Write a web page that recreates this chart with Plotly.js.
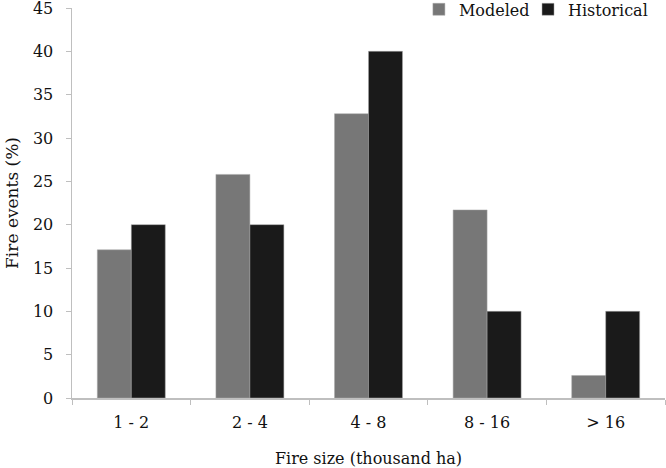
<!DOCTYPE html>
<html>
<head>
<meta charset="utf-8">
<script src="https://cdn.plot.ly/plotly-3.0.1.min.js"></script>
<style>html,body{margin:0;padding:0;background:#fff;}#chart{width:666px;height:468px;}</style>
</head>
<body>
<div id="chart"></div>
<script>
const categories = ["1 - 2", "2 - 4", "4 - 8", "8 - 16", "> 16"];
const modeled = [17.1, 25.8, 32.8, 21.7, 2.6];
const historical = [20, 20, 40, 10, 10];
const seriesNames = ["Modeled", "Historical"];

const FONT = "DejaVu Serif, Liberation Serif, serif";
const TXT = "#111";
const traces = [
  {type: "bar", name: seriesNames[0], x: categories, y: modeled, legend: "legend",
   marker: {color: "#777777", line: {color: "#a8a8a8", width: 0.5}}},
  {type: "bar", name: seriesNames[1], x: categories, y: historical, legend: "legend2",
   marker: {color: "#1a1a1a", line: {color: "#a8a8a8", width: 0.5}}}
];
const legBase = {orientation: "h", xanchor: "left", y: 1.04, yanchor: "top",
                 font: {family: FONT, size: 16, color: TXT}, bgcolor: "rgba(0,0,0,0)", itemwidth: 30};
const layout = {
  width: 666, height: 468,
  margin: {l: 72, r: 1, t: 8, b: 70, autoexpand: false},
  paper_bgcolor: "#fff", plot_bgcolor: "#fff",
  barmode: "group", bargap: 0.427, bargroupgap: 0,
  font: {family: FONT, size: 16, color: TXT},
  showlegend: true,
  legend: Object.assign({}, legBase, {x: 0.585}),
  legend2: Object.assign({}, legBase, {x: 0.769}),
  xaxis: {type: "category", tickson: "boundaries", ticks: "outside", ticklen: 5, automargin: false,
          tickcolor: "#bfbfbf", showline: true, linecolor: "#bfbfbf", linewidth: 1.5,
          showgrid: false, zeroline: false, ticklabelstandoff: 9,
          tickfont: {family: FONT, size: 16, color: TXT},
          title: {text: "Fire size (thousand ha)", font: {family: FONT, size: 16, color: TXT}, standoff: 22}},
  yaxis: {range: [0, 45], dtick: 5, tick0: 0, ticks: "outside", ticklen: 5, automargin: false,
          tickcolor: "#bfbfbf", showline: true, linecolor: "#bfbfbf", linewidth: 1.5,
          showgrid: false, zeroline: false, ticklabelstandoff: 9, ticklabeloverflow: "allow",
          tickfont: {family: FONT, size: 16, color: TXT},
          title: {text: "Fire events (%)", font: {family: FONT, size: 17, color: TXT}, standoff: 10}}
};
Plotly.newPlot("chart", traces, layout, {displayModeBar: false, staticPlot: true});
</script>
</body>
</html>
